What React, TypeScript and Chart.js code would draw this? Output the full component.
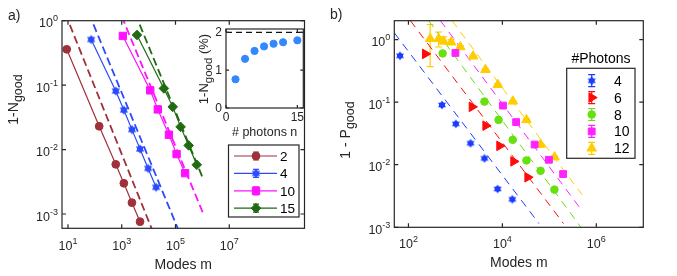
import React, { useEffect, useRef } from 'react';
import { Chart, registerables } from 'chart.js';
import { drawPoint } from 'chart.js/helpers';

Chart.register(...registerables);

const FONT = '"Liberation Sans", Arial, Helvetica, sans-serif';
const TXT = '#262626';

// ---------- Panel a data ----------
const modesA2 = [9, 145, 600, 1200, 2400, 4800];
const valsA2 = [0.36, 0.023, 0.0059, 0.003, 0.0015, 0.00076];
const modesA4 = [73, 600, 1200, 2400, 4800, 9600, 19000];
const valsA4 = [0.51, 0.081, 0.041, 0.0204, 0.0102, 0.0051, 0.0026];
const modesA10 = [1100, 11500, 22000, 57000, 110000, 228000];
const valsA10 = [0.58, 0.083, 0.042, 0.017, 0.0085, 0.0043];
const modesA15 = [3700, 37000, 79000, 155000, 310000, 620000];
const valsA15 = [0.6, 0.089, 0.046, 0.0225, 0.0116, 0.0058];

// fits (dashed), panel a
const fitA2M = [8, 14000];
const fitA2V = [1.28, 5.5e-4];
const fitA4M = [60, 130000];
const fitA4V = [1.3, 5.6e-4];
const fitA10M = [1000, 1.07e6];
const fitA10V = [1.17, 1.02e-3];
const fitA15M = [3160, 1.1e6];
const fitA15V = [1.29, 3.4e-3];

const xTicksA = [1e1, 1e3, 1e5, 1e7];
const yTicksA = [1, 0.1, 0.01, 0.001];

// ---------- Inset data ----------
const photonsN = [2, 4, 6, 8, 10, 12, 15];
const insetVals = [0.76, 1.3, 1.51, 1.63, 1.7, 1.74, 1.79];
const insetRefN = [0, 17];
const insetRefV = [2, 2];
const insetXTicks = [0, 15];
const insetYTicks = [0, 1, 2];

// ---------- Panel b data ----------
const modesB4 = [66, 517, 1020, 2100, 4150, 7900, 16300];
const valsB4 = [0.55, 0.09, 0.045, 0.022, 0.0126, 0.0041, 0.0028];
const modesB6 = [228, 2250, 4400, 8700, 17300, 34500];
const valsB6 = [0.59, 0.084, 0.042, 0.02, 0.0113, 0.0063];
const modesB8 = [535, 4150, 8300, 16600, 32500, 65000, 128000];
const valsB8 = [0.6, 0.102, 0.052, 0.025, 0.0117, 0.008, 0.004];
const modesB10 = [1000, 10300, 19600, 48500, 98000, 196000];
const valsB10 = [0.61, 0.088, 0.048, 0.021, 0.012, 0.0071];
const modesB12 = [290, 440, 560, 810, 1270, 2380, 4350, 8000, 16700, 32500, 65000, 129000];
const valsB12 = [1.03, 1.03, 0.94, 0.905, 0.76, 0.54, 0.33, 0.19, 0.103, 0.052, 0.021, 0.0132];
const errLoB12 = [0.37, 0.76, 0.85, 0.86, 0.72, 0.52, 0.32, 0.185, 0.1, 0.05, 0.02, 0.0127];
const errHiB12 = [1.74, 1.32, 1.1, 1.0, 0.8, 0.56, 0.34, 0.195, 0.106, 0.054, 0.022, 0.0137];

const fitB4M = [50, 60000];
const fitB4V = [1.28, 1.15e-3];
const fitB6M = [110, 2.0e5];
const fitB6V = [2.0, 1.15e-3];
const fitB8M = [270, 4.7e5];
const fitB8V = [2.0, 1.0e-3];
const fitB10M = [480, 4.8e5];
const fitB10V = [2.0, 1.9e-3];
const fitB12M = [850, 5.0e5];
const fitB12V = [2.0, 3.3e-3];

const xTicksB = [1e2, 1e4, 1e6];
const yTicksB = [1, 0.1, 0.01, 0.001];

const legendALabels = ['2', '4', '10', '15'];
const legendBLabels = ['4', '6', '8', '10', '12'];

// ---------- colours ----------
const cA2 = '#a0303a';
const cA4 = '#2b4bff';
const cA10 = '#ff10ff';
const cA15 = '#1f6a12';
const cB4 = '#1a3cff';
const cB6 = '#ff0a0a';
const cB8 = '#66e011';
const cB10 = '#ff22ff';
const cB12 = '#ffcc00';
const cInset = '#3388ff';

const zip = (xs: number[], ys: number[]) => xs.map((x, i) => ({ x, y: ys[i] }));

function hexagram(color: string, r: number): HTMLCanvasElement {
  const s = Math.ceil(r * 2 + 2);
  const c = document.createElement('canvas');
  c.width = s;
  c.height = s;
  const g = c.getContext('2d')!;
  g.fillStyle = color;
  const cx = s / 2;
  const cy = s / 2;
  for (const off of [-Math.PI / 2, Math.PI / 2]) {
    g.beginPath();
    for (let k = 0; k < 3; k++) {
      const ang = off + (k * 2 * Math.PI) / 3;
      const px = cx + r * Math.cos(ang);
      const py = cy + r * Math.sin(ang);
      if (k === 0) g.moveTo(px, py);
      else g.lineTo(px, py);
    }
    g.closePath();
    g.fill();
  }
  g.beginPath();
  g.arc(cx, cy, r * 0.6, 0, Math.PI * 2);
  g.fill();
  return c;
}

type Part = { t: string; size: number; dy?: number };

function drawRich(ctx: CanvasRenderingContext2D, parts: Part[], x: number, y: number, align: 'left' | 'center' | 'right') {
  let w = 0;
  for (const p of parts) {
    ctx.font = `${p.size}px ${FONT}`;
    w += ctx.measureText(p.t).width;
  }
  let cx = align === 'left' ? x : align === 'center' ? x - w / 2 : x - w;
  ctx.textAlign = 'left';
  ctx.textBaseline = 'alphabetic';
  for (const p of parts) {
    ctx.font = `${p.size}px ${FONT}`;
    ctx.fillText(p.t, cx, y + (p.dy || 0));
    cx += ctx.measureText(p.t).width;
  }
}

function powParts(v: number, main: number, exp: number): Part[] {
  const e = Math.round(Math.log10(v));
  return [
    { t: '10', size: main },
    { t: String(e), size: exp, dy: -6 },
  ];
}

type Marker = { pointStyle: any; rotation?: number; radius: number; borderWidth?: number };

function drawMarker(ctx: CanvasRenderingContext2D, m: Marker, color: string, x: number, y: number) {
  ctx.save();
  ctx.fillStyle = color;
  ctx.strokeStyle = color;
  ctx.lineWidth = m.borderWidth ?? 1;
  drawPoint(ctx, { pointStyle: m.pointStyle, rotation: m.rotation || 0, radius: m.radius, borderWidth: m.borderWidth ?? 1 } as any, x, y);
  ctx.restore();
}

const errorBarPlugin = {
  id: 'errbars',
  beforeDatasetsDraw(chart: any) {
    const { ctx, chartArea: a } = chart;
    const sx = chart.scales.x;
    const sy = chart.scales.y;
    ctx.save();
    ctx.beginPath();
    ctx.rect(a.left, a.top, a.right - a.left, a.bottom - a.top);
    ctx.clip();
    chart.data.datasets.forEach((ds: any) => {
      if (!ds.errLo) return;
      ctx.strokeStyle = ds.borderColor;
      ctx.lineWidth = 1.2;
      ds.data.forEach((p: any, i: number) => {
        const x = sx.getPixelForValue(p.x);
        const y0 = sy.getPixelForValue(ds.errLo[i]);
        const y1 = sy.getPixelForValue(ds.errHi[i]);
        ctx.beginPath();
        ctx.moveTo(x, y0);
        ctx.lineTo(x, y1);
        ctx.moveTo(x - 3.5, y0);
        ctx.lineTo(x + 3.5, y0);
        ctx.moveTo(x - 3.5, y1);
        ctx.lineTo(x + 3.5, y1);
        ctx.stroke();
      });
    });
    ctx.restore();
  },
};

type DecorCfg = {
  id: string;
  ox: number;
  oy: number;
  xTicks: number[];
  yTicks: number[];
  pow: boolean;
  tickFont: number;
  expFont: number;
  tickLen: number;
  xLabelDy: number;
  yLabelGap: number;
  yLabelDy: number;
  xTitle: string;
  xTitleDy: number;
  titleFont: number;
  yTitle: Part[];
  yTitleX: number;
  yTitleY: number;
  texts?: { t: string; x: number; y: number; size: number }[];
};

function decorPlugin(cfg: DecorCfg) {
  return {
    id: 'decor' + cfg.id,
    afterDraw(chart: any) {
      const { ctx, chartArea: a } = chart;
      const sx = chart.scales.x;
      const sy = chart.scales.y;
      ctx.save();
      ctx.strokeStyle = TXT;
      ctx.fillStyle = TXT;
      ctx.lineWidth = 1.2;
      ctx.strokeRect(a.left, a.top, a.right - a.left, a.bottom - a.top);
      ctx.beginPath();
      for (const v of cfg.xTicks) {
        const x = sx.getPixelForValue(v);
        ctx.moveTo(x, a.bottom);
        ctx.lineTo(x, a.bottom - cfg.tickLen);
        ctx.moveTo(x, a.top);
        ctx.lineTo(x, a.top + cfg.tickLen);
      }
      for (const v of cfg.yTicks) {
        const y = sy.getPixelForValue(v);
        ctx.moveTo(a.left, y);
        ctx.lineTo(a.left + cfg.tickLen, y);
        ctx.moveTo(a.right, y);
        ctx.lineTo(a.right - cfg.tickLen, y);
      }
      ctx.stroke();
      for (const v of cfg.xTicks) {
        const x = sx.getPixelForValue(v);
        const parts = cfg.pow ? powParts(v, cfg.tickFont, cfg.expFont) : [{ t: String(v), size: cfg.tickFont }];
        drawRich(ctx, parts, x, a.bottom + cfg.xLabelDy, 'center');
      }
      for (const v of cfg.yTicks) {
        const y = sy.getPixelForValue(v);
        const parts = cfg.pow ? powParts(v, cfg.tickFont, cfg.expFont) : [{ t: String(v), size: cfg.tickFont }];
        drawRich(ctx, parts, a.left - cfg.yLabelGap, y + cfg.yLabelDy, 'right');
      }
      drawRich(ctx, [{ t: cfg.xTitle, size: cfg.titleFont }], (a.left + a.right) / 2, a.bottom + cfg.xTitleDy, 'center');
      ctx.translate(-cfg.ox, -cfg.oy);
      ctx.save();
      ctx.translate(cfg.yTitleX, cfg.yTitleY);
      ctx.rotate(-Math.PI / 2);
      drawRich(ctx, cfg.yTitle, 0, 0, 'center');
      ctx.restore();
      for (const t of cfg.texts || []) {
        drawRich(ctx, [{ t: t.t, size: t.size }], t.x, t.y, 'left');
      }
      ctx.restore();
    },
  };
}

type LegendItem = { label: string; color: string; marker: Marker };
type LegendCfg = {
  id: string;
  ox: number;
  oy: number;
  box: [number, number, number, number];
  title?: string;
  titleX?: number;
  titleY?: number;
  items: LegendItem[];
  rowY0: number;
  rowH: number;
  line: boolean;
  lineX0: number;
  lineX1: number;
  markerX: number;
  textX: number;
  font: number;
  eb: number;
  cap: number;
};

function legendPlugin(cfg: LegendCfg) {
  return {
    id: 'legend' + cfg.id,
    afterDraw(chart: any) {
      const ctx = chart.ctx as CanvasRenderingContext2D;
      ctx.save();
      ctx.translate(-cfg.ox, -cfg.oy);
      const [x0, y0, x1, y1] = cfg.box;
      ctx.fillStyle = '#ffffff';
      ctx.fillRect(x0, y0, x1 - x0, y1 - y0);
      ctx.strokeStyle = TXT;
      ctx.lineWidth = 1.2;
      ctx.strokeRect(x0, y0, x1 - x0, y1 - y0);
      if (cfg.title) {
        ctx.fillStyle = '#000';
        drawRich(ctx, [{ t: cfg.title, size: cfg.font }], cfg.titleX!, cfg.titleY!, 'center');
      }
      cfg.items.forEach((it, i) => {
        const y = cfg.rowY0 + i * cfg.rowH;
        ctx.strokeStyle = it.color;
        ctx.lineWidth = 1.2;
        ctx.beginPath();
        if (cfg.line) {
          ctx.moveTo(cfg.lineX0, y);
          ctx.lineTo(cfg.lineX1, y);
        }
        ctx.moveTo(cfg.markerX, y - cfg.eb);
        ctx.lineTo(cfg.markerX, y + cfg.eb);
        ctx.moveTo(cfg.markerX - cfg.cap, y - cfg.eb);
        ctx.lineTo(cfg.markerX + cfg.cap, y - cfg.eb);
        ctx.moveTo(cfg.markerX - cfg.cap, y + cfg.eb);
        ctx.lineTo(cfg.markerX + cfg.cap, y + cfg.eb);
        ctx.stroke();
        drawMarker(ctx, it.marker, it.color, cfg.markerX, y);
        ctx.fillStyle = '#000';
        drawRich(ctx, [{ t: it.label, size: cfg.font }], cfg.textX, y + cfg.font * 0.36, 'left');
      });
      ctx.restore();
    },
  };
}

function series(label: string, xs: number[], ys: number[], color: string, m: Marker, line: boolean, extra: any = {}) {
  return {
    label,
    data: zip(xs, ys),
    showLine: line,
    borderColor: color,
    backgroundColor: color,
    borderWidth: 1.2,
    pointStyle: m.pointStyle,
    pointRotation: m.rotation || 0,
    pointRadius: m.radius,
    pointBorderWidth: m.borderWidth ?? 1,
    pointBackgroundColor: color,
    pointBorderColor: color,
    ...extra,
  };
}

function fit(label: string, xs: number[], ys: number[], color: string, width: number, dash: number[]) {
  return {
    label,
    data: zip(xs, ys),
    showLine: true,
    borderColor: color,
    backgroundColor: color,
    borderWidth: width,
    borderDash: dash,
    pointRadius: 0,
  };
}

export default function App() {
  const refA = useRef<HTMLCanvasElement>(null);
  const refB = useRef<HTMLCanvasElement>(null);
  const refI = useRef<HTMLCanvasElement>(null);

  useEffect(() => {
    const mA2: Marker = { pointStyle: 'circle', radius: 3.9 };
    const mA4: Marker = { pointStyle: hexagram(cA4, 4.8), radius: 4.5 };
    const mA10: Marker = { pointStyle: 'rect', radius: 5.2 };
    const mA15: Marker = { pointStyle: 'rectRot', radius: 4.8 };
    const mB4: Marker = { pointStyle: hexagram(cB4, 4.6), radius: 4.5 };
    const mB6: Marker = { pointStyle: 'triangle', rotation: 90, radius: 5.5 };
    const mB8: Marker = { pointStyle: 'circle', radius: 3.8 };
    const mB10: Marker = { pointStyle: 'rect', radius: 4.8 };
    const mB12: Marker = { pointStyle: 'triangle', radius: 5.5 };

    const oxA = 0, oyA = 0;
    const chartA = new Chart(refA.current!, {
      type: 'scatter',
      data: {
        datasets: [
          series('2', modesA2, valsA2, cA2, mA2, true),
          series('4', modesA4, valsA4, cA4, mA4, true),
          series('10', modesA10, valsA10, cA10, mA10, true),
          series('15', modesA15, valsA15, cA15, mA15, true),
          fit('fit 2', fitA2M, fitA2V, cA2, 1.8, [8, 4]),
          fit('fit 4', fitA4M, fitA4V, cA4, 1.8, [8, 4]),
          fit('fit 10', fitA10M, fitA10V, cA10, 1.8, [8, 4]),
          fit('fit 15', fitA15M, fitA15V, cA15, 1.8, [8, 4]),
        ] as any,
      },
      options: {
        animation: false,
        responsive: false,
        devicePixelRatio: 1,
        layout: { padding: { left: 62, top: 20.7, right: 35.5, bottom: 47.7 } },
        plugins: { legend: { display: false }, tooltip: { enabled: false } },
        scales: {
          x: { type: 'logarithmic', min: 6, max: 6.3e9, display: false },
          y: { type: 'logarithmic', min: 6e-4, max: 1, display: false },
        },
      } as any,
      plugins: [
        errorBarPlugin,
        decorPlugin({
          id: 'A', ox: oxA, oy: oyA,
          xTicks: xTicksA, yTicks: yTicksA, pow: true,
          tickFont: 12.5, expFont: 9, tickLen: 4,
          xLabelDy: 21.5, yLabelGap: 4, yLabelDy: 6.5,
          xTitle: 'Modes m', xTitleDy: 40.5, titleFont: 14,
          yTitle: [{ t: '1-N', size: 14 }, { t: 'good', size: 12.5, dy: 4 }],
          yTitleX: 18, yTitleY: 99.5,
          texts: [{ t: 'a)', x: 8, y: 20, size: 14 }],
        }),
        legendPlugin({
          id: 'A', ox: oxA, oy: oyA,
          box: [228.5, 145, 299, 217],
          items: [
            { label: legendALabels[0], color: cA2, marker: mA2 },
            { label: legendALabels[1], color: cA4, marker: mA4 },
            { label: legendALabels[2], color: cA10, marker: mA10 },
            { label: legendALabels[3], color: cA15, marker: mA15 },
          ],
          rowY0: 156, rowH: 17.4, line: true,
          lineX0: 234, lineX1: 277, markerX: 256, textX: 280, font: 13.5,
          eb: 4, cap: 3,
        }),
      ],
    });

    const oxB = 320, oyB = 0;
    const chartB = new Chart(refB.current!, {
      type: 'scatter',
      data: {
        datasets: [
          series('4', modesB4, valsB4, cB4, mB4, false),
          series('6', modesB6, valsB6, cB6, mB6, false),
          series('8', modesB8, valsB8, cB8, mB8, false),
          series('10', modesB10, valsB10, cB10, mB10, false),
          series('12', modesB12, valsB12, cB12, mB12, false, { errLo: errLoB12, errHi: errHiB12 }),
          fit('fit 4', fitB4M, fitB4V, cB4, 1, [8, 6]),
          fit('fit 6', fitB6M, fitB6V, cB6, 1, [8, 6]),
          fit('fit 8', fitB8M, fitB8V, cB8, 1, [8, 6]),
          fit('fit 10', fitB10M, fitB10V, cB10, 1, [8, 6]),
          fit('fit 12', fitB12M, fitB12V, cB12, 1, [8, 6]),
        ] as any,
      },
      options: {
        animation: false,
        responsive: false,
        devicePixelRatio: 1,
        layout: { padding: { left: 74.3, top: 20.7, right: 33.7, bottom: 48.7 } },
        plugins: { legend: { display: false }, tooltip: { enabled: false } },
        scales: {
          x: { type: 'logarithmic', min: 50, max: 1e7, display: false },
          y: { type: 'logarithmic', min: 1e-3, max: 2, display: false },
        },
      } as any,
      plugins: [
        errorBarPlugin,
        decorPlugin({
          id: 'B', ox: oxB, oy: oyB,
          xTicks: xTicksB, yTicks: yTicksB, pow: true,
          tickFont: 12.5, expFont: 9, tickLen: 4,
          xLabelDy: 21, yLabelGap: 4, yLabelDy: 6.5,
          xTitle: 'Modes m', xTitleDy: 40, titleFont: 14,
          yTitle: [{ t: '1 - P', size: 14 }, { t: 'good', size: 12.5, dy: 4 }],
          yTitleX: 350, yTitleY: 130,
          texts: [{ t: 'b)', x: 330, y: 19, size: 14 }],
        }),
        legendPlugin({
          id: 'B', ox: oxB, oy: oyB,
          box: [566.7, 68.3, 635, 158.3],
          title: '#Photons', titleX: 601, titleY: 63,
          items: [
            { label: legendBLabels[0], color: cB4, marker: mB4 },
            { label: legendBLabels[1], color: cB6, marker: mB6 },
            { label: legendBLabels[2], color: cB8, marker: mB8 },
            { label: legendBLabels[3], color: cB10, marker: mB10 },
            { label: legendBLabels[4], color: cB12, marker: mB12 },
          ],
          rowY0: 80.7, rowH: 16.9, line: false,
          lineX0: 0, lineX1: 0, markerX: 591.7, textX: 614, font: 14,
          eb: 6, cap: 3.5,
        }),
      ],
    });

    const oxI = 180, oyI = 18;
    const chartI = new Chart(refI.current!, {
      type: 'scatter',
      data: {
        datasets: [
          {
            label: 'inset',
            data: zip(photonsN, insetVals),
            showLine: false,
            pointRadius: 3.6,
            pointBackgroundColor: cInset,
            pointBorderColor: cInset,
            backgroundColor: cInset,
            borderColor: cInset,
          },
          fit('limit', insetRefN, insetRefV, '#111111', 1.1, [6, 4]),
        ] as any,
      },
      options: {
        animation: false,
        responsive: false,
        devicePixelRatio: 1,
        layout: { padding: { left: 46, top: 11, right: 11.7, bottom: 35 } },
        plugins: { legend: { display: false }, tooltip: { enabled: false } },
        scales: {
          x: { type: 'linear', min: 0, max: 16.25, display: false },
          y: { type: 'linear', min: 0, max: 2.09, display: false },
        },
      } as any,
      plugins: [
        {
          id: 'insetClip',
          beforeDraw(chart: any) {
            const { ctx, chartArea: a } = chart;
            ctx.save();
            ctx.fillStyle = '#fff';
            ctx.fillRect(a.left, a.top, a.right - a.left, a.bottom - a.top);
            ctx.restore();
          },
        },
        decorPlugin({
          id: 'I', ox: oxI, oy: oyI,
          xTicks: insetXTicks, yTicks: insetYTicks, pow: false,
          tickFont: 12, expFont: 9, tickLen: 3,
          xLabelDy: 13, yLabelGap: 4, yLabelDy: 4,
          xTitle: '# photons n', xTitleDy: 28, titleFont: 12.5,
          yTitle: [{ t: '1-N', size: 13 }, { t: 'good', size: 11.5, dy: 3.5 }, { t: ' (%)', size: 13 }],
          yTitleX: 208, yTitleY: 69,
        }),
      ],
    });

    return () => {
      chartA.destroy();
      chartB.destroy();
      chartI.destroy();
    };
  }, []);

  return (
    <div style={{ position: 'fixed', left: 0, top: 0, width: 677, height: 276, background: '#fff', overflow: 'hidden' }}>
      <canvas ref={refA} width={340} height={276} style={{ position: 'absolute', left: 0, top: 0, width: 340, height: 276 }} />
      <canvas ref={refB} width={357} height={276} style={{ position: 'absolute', left: 320, top: 0, width: 357, height: 276 }} />
      <canvas ref={refI} width={135} height={125} style={{ position: 'absolute', left: 180, top: 18, width: 135, height: 125 }} />
    </div>
  );
}
